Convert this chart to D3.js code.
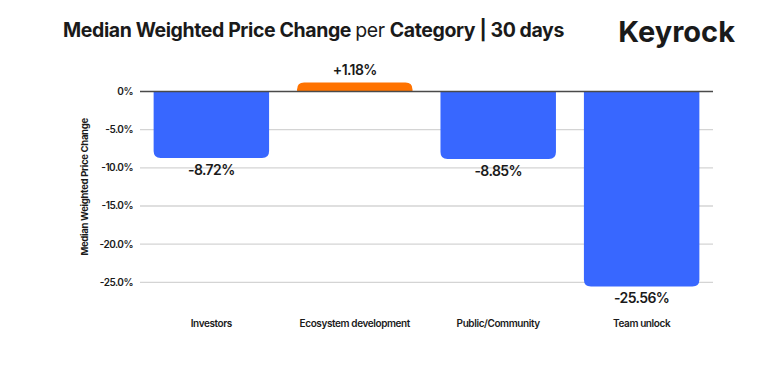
<!DOCTYPE html>
<html><head><meta charset="utf-8">
<script src="https://cdn.jsdelivr.net/npm/d3@7"></script>
<style>
body{margin:0;background:#fff;}
svg{display:block;font-family:Inter, "Noto Sans", sans-serif;}
</style></head>
<body><svg id="c" width="778" height="365"></svg>
<script>
const categories = ["Investors","Ecosystem development","Public/Community","Team unlock"];
const values = [-8.72, 1.18, -8.85, -25.56];
const valueLabels = ["-8.72%","+1.18%","-8.85%","-25.56%"];
const yTicks = [0,-5,-10,-15,-20,-25];
const yTickLabels = ["0%","-5.0%","-10.0%","-15.0%","-20.0%","-25.0%"];

const svg = d3.select("#c");
const left=140, right=713, zeroY=91.5;
const y = d3.scaleLinear().domain([0,-25]).range([zeroY, 282.3]);
const x = d3.scaleBand().domain(categories).range([left,right]).paddingInner(0.195).paddingOuter(0.095);

svg.append("g").selectAll("line").data(yTicks.filter(d=>d!==0)).join("line")
  .attr("x1",left).attr("x2",right).attr("y1",d=>y(d)).attr("y2",d=>y(d))
  .attr("stroke","#d4d4d4").attr("stroke-width",1.3);

svg.append("g").selectAll("text").data(yTicks).join("text")
  .attr("x",133).attr("y",d=>y(d)).attr("dy","0.35em").attr("text-anchor","end")
  .attr("font-size",10).attr("font-weight",600).attr("letter-spacing","-0.5").attr("fill","#1a1a1a")
  .text((d,i)=>yTickLabels[i]);

function barPath(d,i){
  const x0=x(categories[i]), w=x.bandwidth(), r=7;
  const y0=y(0), y1=y(d);
  if(d<0){
    return `M${x0},${y0}H${x0+w}V${y1-r}Q${x0+w},${y1} ${x0+w-r},${y1}H${x0+r}Q${x0},${y1} ${x0},${y1-r}Z`;
  } else {
    return `M${x0},${y0}V${y1+r}Q${x0},${y1} ${x0+r},${y1}H${x0+w-r}Q${x0+w},${y1} ${x0+w},${y1+r}V${y0}Z`;
  }
}
svg.append("g").selectAll("path").data(values).join("path")
  .attr("d",barPath).attr("fill",d=>d<0?"#3867FF":"#FF7300");

svg.append("line").attr("x1",left).attr("x2",right).attr("y1",y(0)).attr("y2",y(0))
  .attr("stroke","#4a4a4a").attr("stroke-width",1.6);

svg.append("g").selectAll("text").data(values).join("text")
  .attr("x",(d,i)=>x(categories[i])+x.bandwidth()/2)
  .attr("y",d=>d<0? y(d)+12 : y(d)-12)
  .attr("dy","0.35em").attr("text-anchor","middle")
  .attr("font-size",14).attr("font-weight",600).attr("letter-spacing","-0.6").attr("fill","#1a1a1a")
  .text((d,i)=>valueLabels[i]);

svg.append("g").selectAll("text").data(categories).join("text")
  .attr("x",d=>x(d)+x.bandwidth()/2).attr("y",323).attr("dy","0.35em").attr("text-anchor","middle")
  .attr("font-size",10).attr("font-weight",600).attr("letter-spacing","-0.4").attr("fill","#1a1a1a")
  .text(d=>d);

svg.append("text").attr("transform",`translate(88,${(y(0)+y(-25))/2})`+" rotate(-90)")
  .attr("text-anchor","middle").attr("font-size",9.5).attr("font-weight",700).attr("letter-spacing","-0.3").attr("fill","#1a1a1a")
  .text("Median Weighted Price Change");

const t = svg.append("text").attr("x",63).attr("y",37).attr("font-size",19.5).attr("font-weight",650)
  .attr("letter-spacing","-0.4").attr("fill","#1a1a1a");
t.append("tspan").text("Median Weighted Price Change ");
t.append("tspan").attr("font-weight",400).text("per ");
t.append("tspan").text("Category | 30 days");

svg.append("text").attr("x",735).attr("y",42).attr("text-anchor","end").attr("font-size",29)
  .attr("font-weight",700).attr("letter-spacing","0").attr("fill","#1a1a1a").text("Keyrock");
</script></body></html>
